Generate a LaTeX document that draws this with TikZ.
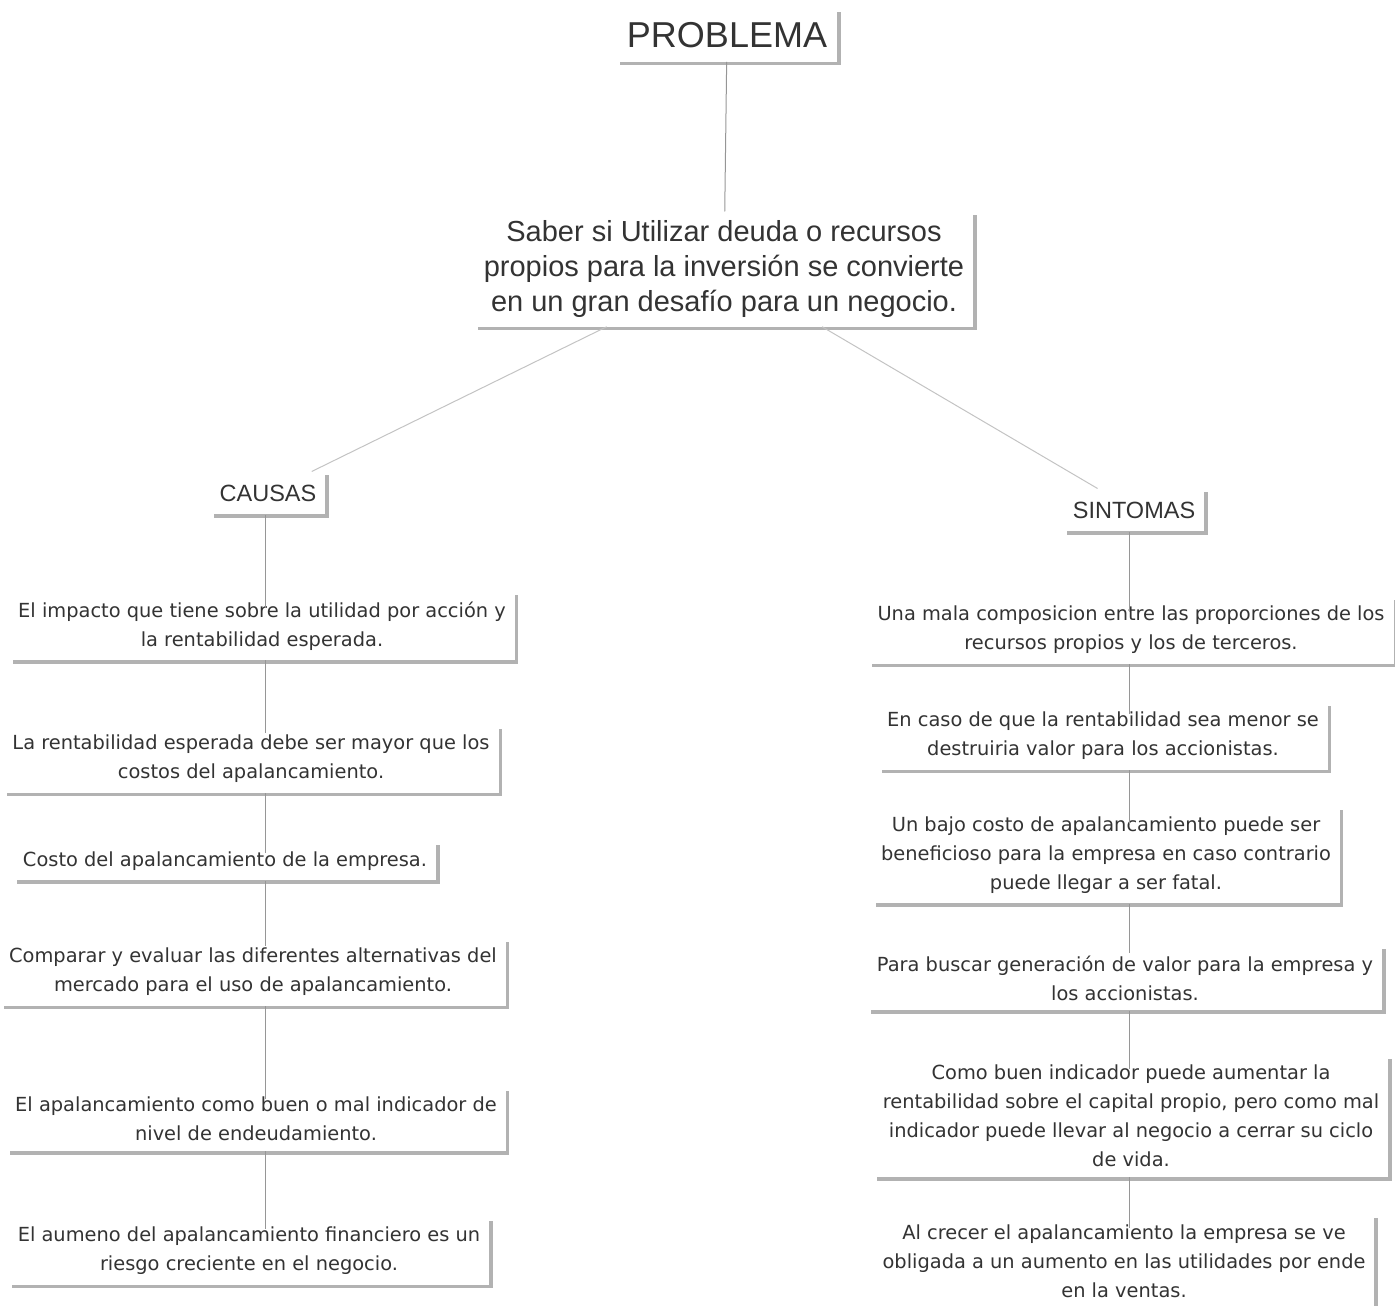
\documentclass[tikz,border=0pt]{standalone}
\usepackage{fontspec}
\setmainfont{Liberation Sans}
\newfontfamily\itemfont{DejaVu Sans}
\usetikzlibrary{shadows}
\definecolor{ink}{RGB}{51,51,51}
\definecolor{wire}{RGB}{150,150,150}
\definecolor{wirelt}{RGB}{195,195,195}
\tikzset{
  card/.style={fill=white,inner xsep=9pt,inner ysep=10pt,align=center,text=ink,
    drop shadow={shadow xshift=3.5pt,shadow yshift=-3.5pt,fill=black!60,opacity=.5}},
  head/.style={card,inner xsep=10pt,inner ysep=14pt,font=\fontsize{36}{40}\selectfont},
  mainq/.style={card,inner ysep=9pt,font=\fontsize{29}{35}\selectfont},
  branch/.style={card,inner ysep=13pt,font=\fontsize{23.5}{28}\selectfont},
  item/.style={card,font=\itemfont\fontsize{19.4}{29}\selectfont},
  link/.style={draw=wire,line width=1pt},
}

\begin{document}
\begin{tikzpicture}[x=1pt,y=-1pt]
  \useasboundingbox (0,0) rectangle (1395,1306);
  % top of the tree
  \node[head] (problema) at (727,35) {PROBLEMA};
  \node[mainq] (saber) at (724,269) {Saber si Utilizar deuda o recursos\\propios para la inversión se convierte\\en un gran desafío para un negocio.};
  \node[branch] (causas) at (268,493) {CAUSAS};
  \node[branch] (sintomas) at (1134,510) {SINTOMAS};
  \coordinate (lspine) at (265,0);
  \coordinate (rspine) at (1129,0);

  % causas
  \node[item] (c1) at (262,626) {El impacto que tiene sobre la utilidad por acción y\\la rentabilidad esperada.};
  \node[item] (c2) at (251,759) {La rentabilidad esperada debe ser mayor que los\\costos del apalancamiento.};
  \node[item] (c3) at (225,861) {Costo del apalancamiento de la empresa.};
  \node[item] (c4) at (253,972) {Comparar y evaluar las diferentes alternativas del\\mercado para el uso de apalancamiento.};
  \node[item] (c5) at (256,1119) {El apalancamiento como buen o mal indicador de\\nivel de endeudamiento.};
  \node[item] (c6) at (249,1251) {El aumeno del apalancamiento financiero es un\\riesgo creciente en el negocio.};

  % sintomas
  \node[item] (s1) at (1131,630) {Una mala composicion entre las proporciones de los\\recursos propios y los de terceros.};
  \node[item] (s2) at (1103,736) {En caso de que la rentabilidad sea menor se\\destruiria valor para los accionistas.};
  \node[item] (s3) at (1106,855) {Un bajo costo de apalancamiento puede ser\\beneficioso para la empresa en caso contrario\\puede llegar a ser fatal.};
  \node[item] (s4) at (1125,978) {Para buscar generación de valor para la empresa y\\los accionistas.};
  \node[item] (s5) at (1131,1116) {Como buen indicador puede aumentar la\\rentabilidad sobre el capital propio, pero como mal\\indicador puede llevar al negocio a cerrar su ciclo\\de vida.};
  \node[item] (s6) at (1124,1261) {Al crecer el apalancamiento la empresa se ve\\obligada a un aumento en las utilidades por ende\\en la ventas.};

  % connectors
  \draw[link] (problema) -- (saber);
  \draw[link,draw=wirelt] (saber) -- (causas);
  \draw[link,draw=wirelt] (saber) -- (sintomas);
  \draw[link,shorten >=-16pt] (causas.south -| lspine) -- (c1.north -| lspine);
  \draw[link,shorten >=-8pt] (c1.south -| lspine) -- (c2.north -| lspine);
  \draw[link,shorten >=-12pt] (c2.south -| lspine) -- (c3.north -| lspine);
  \draw[link,shorten >=-8pt] (c3.south -| lspine) -- (c4.north -| lspine);
  \draw[link,shorten >=-12pt] (c4.south -| lspine) -- (c5.north -| lspine);
  \draw[link,shorten >=-12pt] (c5.south -| lspine) -- (c6.north -| lspine);
  \draw[link,shorten >=-16pt] (sintomas.south -| rspine) -- (s1.north -| rspine);
  \draw[link,shorten >=-12pt] (s1.south -| rspine) -- (s2.north -| rspine);
  \draw[link,shorten >=-18pt] (s2.south -| rspine) -- (s3.north -| rspine);
  \draw[link,shorten >=-8pt] (s3.south -| rspine) -- (s4.north -| rspine);
  \draw[link,shorten >=-14pt] (s4.south -| rspine) -- (s5.north -| rspine);
  \draw[link,shorten >=-14pt] (s5.south -| rspine) -- (s6.north -| rspine);
\end{tikzpicture}
\end{document}
